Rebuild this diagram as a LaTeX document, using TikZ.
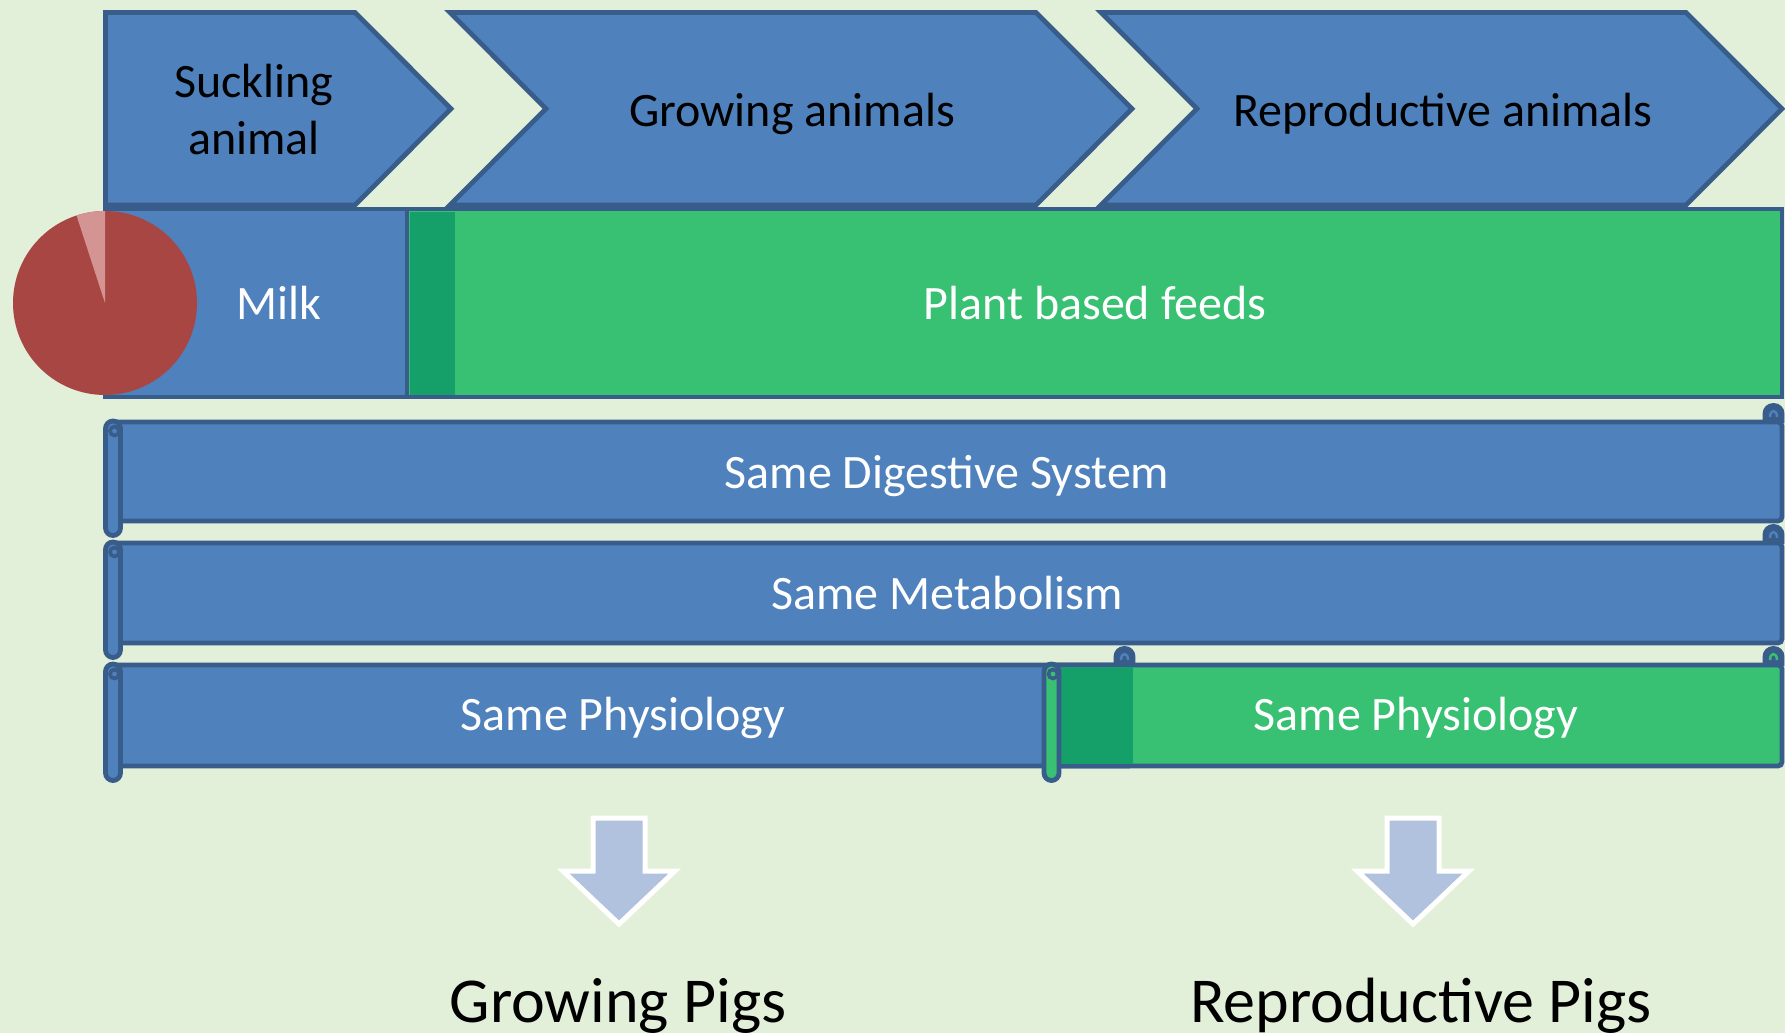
\documentclass[tikz,border=0pt]{standalone}
\usepackage{fontspec}
\setmainfont{Carlito}
\definecolor{myblue}{HTML}{4F81BD}
\definecolor{bordblue}{HTML}{385D8A}
\definecolor{mygreen}{HTML}{38C172}
\definecolor{dkgreen}{HTML}{14A068}
\definecolor{bgcol}{HTML}{E2EFD9}
\definecolor{piecol}{HTML}{A84644}
\definecolor{slicecol}{HTML}{D49494}
\definecolor{arrowfill}{HTML}{B0C2DE}
\tikzset{
  bline/.style={draw=bordblue, line width=2.4pt},
  txt/.style={font=\fontsize{24}{28.5}\selectfont, inner sep=0pt, text=black},
  wtxt/.style={txt, text=white},
  bigtxt/.style={font=\fontsize{32}{38}\selectfont, inner sep=0pt, text=black},
  downarrow/.style={fill=arrowfill, draw=white, line width=2.5pt, line join=miter},
}
% scroll parts
\newcommand\screct[5]{\draw[bline, fill=#5, rounded corners=2pt] (#1+8,#3) rectangle (#2,#4);}
\newcommand\myroll[4]{%
  \draw[bline, fill=#4, rounded corners=3.75pt] (#1,#2-1) rectangle (#1+15,#3+14.5);
  \draw[bordblue, line width=1.8pt] (#1+9,#2+9) circle[radius=4.5];}
\newcommand\mytab[3]{%
  \draw[bline, fill=bordblue, rounded corners=4pt] (#1-17,#2+1) -- (#1-17,#2-16.5) -- (#1,#2-16.5) -- (#1,#2+1);
  \draw[#3, line width=1.2pt] (#1-12,#2-5) .. controls (#1-12,#2-13) and (#1-5,#2-13) .. (#1-5,#2-5);}
\begin{document}
\begin{tikzpicture}[x=0.5pt, y=-0.5pt]
\useasboundingbox (0,0) rectangle (1785,1033);
\fill[bgcol] (0,0) rectangle (1785,1033);

% chevrons
\draw[bline, fill=myblue] (105.5,12.5) -- (355,12.5) -- (451,108.75) -- (355,205) -- (105.5,205) -- cycle;
\draw[bline, fill=myblue] (450,12.5) -- (1036,12.5) -- (1132,108.75) -- (1036,205) -- (450,205) -- (546,108.75) -- cycle;
\draw[bline, fill=myblue] (1101,12.5) -- (1686,12.5) -- (1782,108.75) -- (1686,205) -- (1101,205) -- (1197,108.75) -- cycle;
\node[txt, align=center] (suck) at (254,110) {Suckling\\animal};
\node[txt, anchor=base] (grow) at (792,126) {Growing animals};
\node[txt, anchor=base] (repr) at (1443,126) {Reproductive animals};

% feed row
\draw[bline, fill=myblue] (105.5,209) rectangle (455,397);
\draw[bline, fill=mygreen] (407,209) rectangle (1782,397);
\fill[dkgreen] (409.5,211.5) rectangle (455,394.5);
\node[wtxt, anchor=base] (milk) at (279,319) {Milk};
\node[wtxt, anchor=base] (plant) at (1095,319) {Plant based feeds};

% pie
\fill[piecol] (105,303) circle[radius=92];
\begin{scope}
  \clip (105,303) circle[radius=92];
  \fill[slicecol] (105,303) -- (105,153) -- (58.6,160.4) -- cycle;
\end{scope}

% row 1
\screct{105.5}{1782}{422}{521}{myblue}
\myroll{105.5}{422}{521}{myblue}
\mytab{1782}{422}{myblue}
\node[wtxt, anchor=base] (dig) at (947,488) {Same Digestive System};

% row 2
\screct{105.5}{1782}{543}{643}{myblue}
\myroll{105.5}{543}{643}{myblue}
\mytab{1782}{543}{myblue}
\node[wtxt, anchor=base] (meta) at (947,609) {Same Metabolism};

% row 3
\screct{105.5}{1133}{665}{766}{myblue}
\myroll{105.5}{665}{766}{myblue}
\screct{1044}{1782}{665}{766}{mygreen}
\fill[dkgreen] (1059,667.4) rectangle (1133,763.6);
\myroll{1044}{665}{766}{mygreen}
\mytab{1133}{665}{myblue}
\mytab{1782}{665}{mygreen}
\node[wtxt, anchor=base] (phys1) at (623,730) {Same Physiology};
\node[wtxt, anchor=base] (phys2) at (1416,730) {Same Physiology};

% arrows
\draw[downarrow] (593,818) -- (645,818) -- (645,871) -- (675,871) -- (619,924) -- (563,871) -- (593,871) -- cycle;
\draw[downarrow] (1387,818) -- (1439,818) -- (1439,871) -- (1469,871) -- (1413,924) -- (1357,871) -- (1387,871) -- cycle;

\node[bigtxt, anchor=base] (gpigs) at (618,1022) {Growing Pigs};
\node[bigtxt, anchor=base] (rpigs) at (1421,1022) {Reproductive Pigs};
\end{tikzpicture}
\end{document}
